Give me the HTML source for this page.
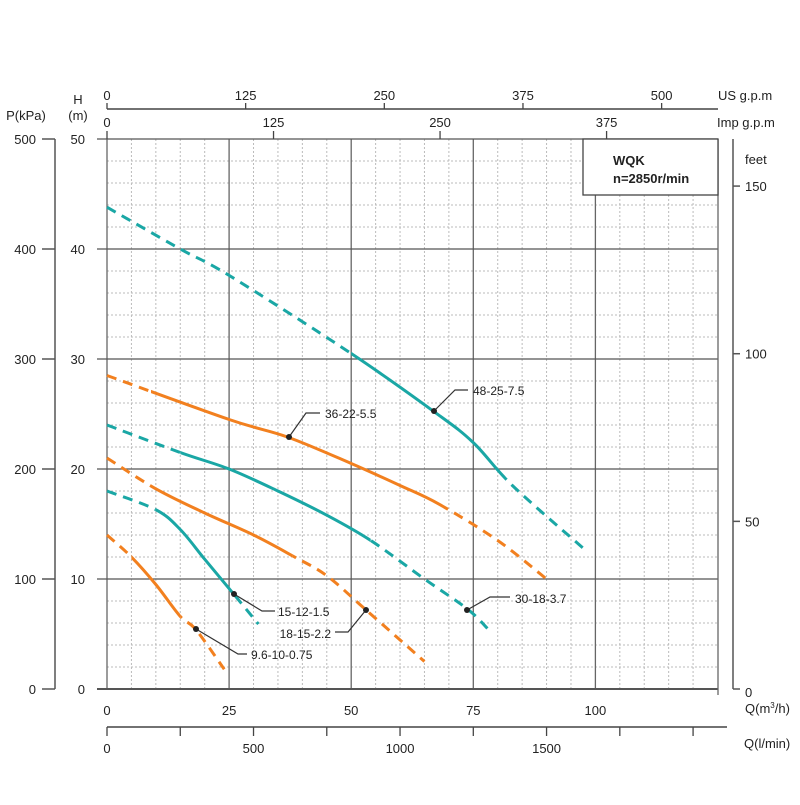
<!DOCTYPE html>
<html><head><meta charset="utf-8"><style>
html,body{margin:0;padding:0;background:#fff;}
svg text{font-family:"Liberation Sans",sans-serif;fill:#222;}
</style></head><body>
<svg id="s" width="800" height="800" xmlns="http://www.w3.org/2000/svg"></svg>
<script>
const S=document.getElementById('s');
let h='';
const X=q=>107+q*4.884, Y=H=>689-H*11;
// minor grid
for(let q=5;q<125;q+=5){ if(q%25) h+=`<line x1="${X(q)}" y1="139" x2="${X(q)}" y2="689" stroke="#bbb" stroke-width="1" stroke-dasharray="2,2"/>`;}
for(let H=2;H<50;H+=2){ if(H%10) h+=`<line x1="107" y1="${Y(H)}" x2="718" y2="${Y(H)}" stroke="#bbb" stroke-width="1" stroke-dasharray="2,2"/>`;}
// major grid
for(let q=0;q<=100;q+=25) h+=`<line x1="${X(q)}" y1="139" x2="${X(q)}" y2="689" stroke="#666" stroke-width="1.3"/>`;
for(let H=0;H<=50;H+=10) h+=`<line x1="97" y1="${Y(H)}" x2="718" y2="${Y(H)}" stroke="#555" stroke-width="${H==0?2:1.3}"/>`;
h+=`<line x1="718" y1="139" x2="718" y2="695" stroke="#666" stroke-width="1.3"/>`;
// left axes
h+=`<line x1="55" y1="139" x2="55" y2="689" stroke="#555" stroke-width="1.5"/>`;
for(let H=0;H<=50;H+=10){const y=Y(H);
 h+=`<line x1="42" y1="${y}" x2="55" y2="${y}" stroke="#555" stroke-width="1.5"/>`;
 h+=`<text x="36" y="${y+5}" font-size="13" text-anchor="end">${H*10}</text>`;
 h+=`<text x="85" y="${y+5}" font-size="13" text-anchor="end">${H}</text>`;}
h+=`<text x="26" y="120" font-size="13" text-anchor="middle">P(kPa)</text><text x="78" y="104" font-size="13" text-anchor="middle">H</text><text x="78" y="120" font-size="13" text-anchor="middle">(m)</text>`;
// right feet axis
h+=`<line x1="733" y1="139" x2="733" y2="689" stroke="#555" stroke-width="1.5"/>`;
for(let f=0;f<=150;f+=50){const y=f==0?689:Y(f*0.3048);
 h+=`<line x1="733" y1="${y}" x2="740" y2="${y}" stroke="#555" stroke-width="1.5"/><text x="745" y="${y+5+(f==0?3:0)}" font-size="13">${f}</text>`;}
h+=`<text x="745" y="164" font-size="13">feet</text>`;
// top axes
h+=`<line x1="107" y1="109" x2="718" y2="109" stroke="#444" stroke-width="1.5"/>`;
for(let g=0;g<=500;g+=125){const x=X(g*0.22712);h+=`<line x1="${x}" y1="103" x2="${x}" y2="109" stroke="#444" stroke-width="1.3"/><text x="${x}" y="100" font-size="13" text-anchor="middle">${g}</text>`;}
h+=`<text x="718" y="100" font-size="13">US g.p.m</text>`;
for(let g=0;g<=375;g+=125){const x=X(g*0.27277);h+=`<line x1="${x}" y1="131" x2="${x}" y2="139" stroke="#444" stroke-width="1.3"/><text x="${x}" y="127" font-size="13" text-anchor="middle">${g}</text>`;}
h+=`<text x="717" y="127" font-size="13">Imp g.p.m</text>`;
// bottom axes
for(let q=0;q<=100;q+=25) h+=`<text x="${X(q)}" y="715" font-size="13" text-anchor="middle">${q}</text>`;
h+=`<text x="745" y="713" font-size="13">Q(m<tspan font-size="8" dy="-5">3</tspan><tspan dy="5">/h)</tspan></text>`;
h+=`<line x1="107" y1="727" x2="727" y2="727" stroke="#444" stroke-width="1.5"/>`;
for(let l=0;l<=2000;l+=250){const x=X(l*0.06);if(x>720)break;h+=`<line x1="${x}" y1="727" x2="${x}" y2="736" stroke="#444" stroke-width="1.3"/>`;if(l%500==0&&l<2000)h+=`<text x="${x}" y="753" font-size="13" text-anchor="middle">${l}</text>`;}
h+=`<text x="744" y="748" font-size="13">Q(l/min)</text>`;
// legend box
h+=`<rect x="583" y="139" width="135" height="56" fill="#fff" stroke="#444" stroke-width="1.3"/><text x="613" y="165" font-size="13" font-weight="bold">WQK</text><text x="613" y="183" font-size="13" font-weight="bold">n=2850r/min</text>`;
// curves
const T='#1aa7a5',O='#f2801f';
function path(p){const q=p.map(([a,b])=>[X(a),Y(b)]);let d=`M${q[0][0]},${q[0][1]}`;
 for(let i=0;i<q.length-1;i++){const p0=q[i-1]||q[i],p1=q[i],p2=q[i+1],p3=q[i+2]||q[i+1];
  d+=` C${p1[0]+(p2[0]-p0[0])/6},${p1[1]+(p2[1]-p0[1])/6} ${p2[0]-(p3[0]-p1[0])/6},${p2[1]-(p3[1]-p1[1])/6} ${p2[0]},${p2[1]}`;}return d;}
let cid=0;
function curve(pts,c,a,b){const d=path(pts);cid++;
 h+=`<clipPath id="c${cid}"><rect x="${X(a)}" y="0" width="${X(b)-X(a)}" height="800"/></clipPath>`;
 h+=`<clipPath id="d${cid}a"><rect x="0" y="0" width="${X(a)}" height="800"/></clipPath><clipPath id="d${cid}b"><rect x="${X(b)}" y="0" width="800" height="800"/></clipPath>`;
 h+=`<path d="${d}" fill="none" stroke="${c}" stroke-width="3" stroke-dasharray="10,7" clip-path="url(#d${cid}a)"/>`;
 h+=`<path d="${d}" fill="none" stroke="${c}" stroke-width="3" stroke-dasharray="10,7" clip-path="url(#d${cid}b)"/>`;
 h+=`<path d="${d}" fill="none" stroke="${c}" stroke-width="3" clip-path="url(#c${cid})"/>`;}
curve([[0,43.8],[15,40],[25,37.6],[50,30.5],[67,25.2],[75,22.4],[83,18.5],[97.5,12.8]],T,50,81.6);
curve([[0,28.5],[25,24.5],[37,22.9],[50,20.5],[60,18.5],[68,16.8],[80,13.5],[90,10]],O,9,68.9);
curve([[0,24],[15,21.5],[25,20],[35,18],[45,15.8],[54,13.5],[65,10],[74,7.2],[78.5,5.2]],T,15,54);
curve([[0,21],[10,18.2],[20,16],[30,14],[38,12.1],[45,10.3],[53,7.2],[65,2.5]],O,9,38);
curve([[0,18],[10,16.3],[15,14.5],[20,11.8],[26,8.6],[31,5.9]],T,10,26);
curve([[0,14],[5,12],[10,9.5],[15,6.6],[18.2,5.4],[24,1.8]],O,5,15);
// labels
function lab(dx,dy,ex,ey,fx,tx,ty,t,anc){h+=`<polyline points="${dx},${dy} ${ex},${ey} ${fx},${ey}" fill="none" stroke="#333" stroke-width="1.2"/><circle cx="${dx}" cy="${dy}" r="3" fill="#222"/><text x="${tx}" y="${ty}" font-size="12" ${anc?'text-anchor="end"':''}>${t}</text>`;}
lab(434,411,455,390,468,473,395,'48-25-7.5');
lab(289,437,306,413,320,325,418,'36-22-5.5');
lab(467,610,490,597,510,515,603,'30-18-3.7');
lab(234,594,262,611,275,278,616,'15-12-1.5');
lab(366,610,348,632,335,331,638,'18-15-2.2',1);
lab(196,629,238,654,247,251,659,'9.6-10-0.75');
S.innerHTML=h;
</script>
</body></html>
